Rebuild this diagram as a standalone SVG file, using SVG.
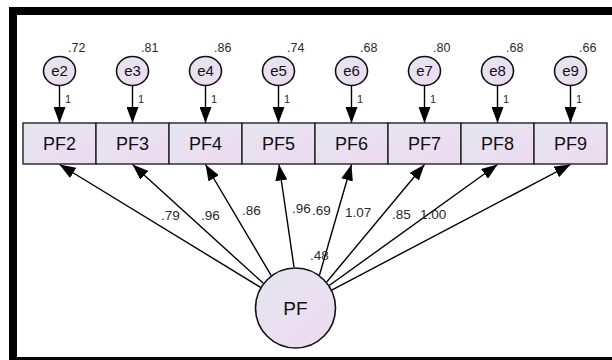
<svg xmlns="http://www.w3.org/2000/svg" width="612" height="360" viewBox="0 0 612 360">
<defs>
<linearGradient id="g" x1="0" y1="0" x2="1" y2="1">
<stop offset="0" stop-color="#e4e6ee"/>
<stop offset="1" stop-color="#eedaf2"/>
</linearGradient>
<marker id="ah" markerUnits="userSpaceOnUse" markerWidth="16" markerHeight="12" refX="16" refY="6" orient="auto">
<path d="M0,0 L16,6 L0,12 Z" fill="#000"/>
</marker>
</defs>
<style>
.box{fill:url(#g);stroke:#222;stroke-width:1.4}
.circ{fill:url(#g);stroke:#111;stroke-width:1.6}
.lbl{font-family:"Liberation Sans",Arial,sans-serif;fill:#111;text-anchor:middle}
.num{font-family:"Liberation Sans",Arial,sans-serif;fill:#2a2a2a;font-size:13.5px}
.var{font-family:"Liberation Sans",Arial,sans-serif;fill:#2a2a2a;font-size:12.5px}
.one{font-family:"Liberation Sans",Arial,sans-serif;fill:#2a2a2a;font-size:11px}
.ln{stroke:#000;stroke-width:1.4;fill:none;marker-end:url(#ah)}
</style>
<rect x="0" y="0" width="612" height="360" fill="#fff"/>
<rect x="13" y="11" width="700" height="350" fill="none" stroke="#000" stroke-width="8"/>

<g id="connectors">
<line class="ln" x1="59.5" y1="85.5" x2="59.5" y2="123"/>
<line class="ln" x1="132.5" y1="85.5" x2="132.5" y2="123"/>
<line class="ln" x1="205.5" y1="85.5" x2="205.5" y2="123"/>
<line class="ln" x1="278.5" y1="85.5" x2="278.5" y2="123"/>
<line class="ln" x1="351.5" y1="85.5" x2="351.5" y2="123"/>
<line class="ln" x1="424.5" y1="85.5" x2="424.5" y2="123"/>
<line class="ln" x1="497.5" y1="85.5" x2="497.5" y2="123"/>
<line class="ln" x1="570.5" y1="85.5" x2="570.5" y2="123"/>
<line class="ln" x1="260.6" y1="287.4" x2="59.5" y2="164.5"/>
<line class="ln" x1="263.3" y1="283.3" x2="132.5" y2="164.5"/>
<line class="ln" x1="271.1" y1="275.4" x2="205.5" y2="164.5"/>
<line class="ln" x1="294" y1="267" x2="279" y2="164.5"/>
<line class="ln" x1="319.5" y1="275" x2="351.5" y2="164.5"/>
<line class="ln" x1="326.7" y1="282" x2="424.5" y2="164.5"/>
<line class="ln" x1="329.2" y1="285.5" x2="497.5" y2="164.5"/>
<line class="ln" x1="331.7" y1="290.1" x2="570.5" y2="164.5"/>
<text class="one" x="65" y="103">1</text>
<text class="one" x="138" y="103">1</text>
<text class="one" x="211" y="103">1</text>
<text class="one" x="284" y="103">1</text>
<text class="one" x="357" y="103">1</text>
<text class="one" x="430" y="103">1</text>
<text class="one" x="503" y="103">1</text>
<text class="one" x="576" y="103">1</text>
<text class="num" x="161" y="220">.79</text>
<text class="num" x="201" y="220">.96</text>
<text class="num" x="242" y="215">.86</text>
<text class="num" x="292" y="213">.96</text>
<text class="num" x="312" y="215">.69</text>
<text class="num" x="345" y="217">1.07</text>
<text class="num" x="392" y="219">.85</text>
<text class="num" x="420" y="219">1.00</text>
</g>

<g id="PF2"><rect class="box" x="23" y="123" width="73" height="41"/><text class="lbl" x="59.5" y="150" font-size="18">PF2</text></g>
<g id="PF3"><rect class="box" x="96" y="123" width="73" height="41"/><text class="lbl" x="132.5" y="150" font-size="18">PF3</text></g>
<g id="PF4"><rect class="box" x="169" y="123" width="73" height="41"/><text class="lbl" x="205.5" y="150" font-size="18">PF4</text></g>
<g id="PF5"><rect class="box" x="242" y="123" width="73" height="41"/><text class="lbl" x="278.5" y="150" font-size="18">PF5</text></g>
<g id="PF6"><rect class="box" x="315" y="123" width="73" height="41"/><text class="lbl" x="351.5" y="150" font-size="18">PF6</text></g>
<g id="PF7"><rect class="box" x="388" y="123" width="73" height="41"/><text class="lbl" x="424.5" y="150" font-size="18">PF7</text></g>
<g id="PF8"><rect class="box" x="461" y="123" width="73" height="41"/><text class="lbl" x="497.5" y="150" font-size="18">PF8</text></g>
<g id="PF9"><rect class="box" x="534" y="123" width="73" height="41"/><text class="lbl" x="570.5" y="150" font-size="18">PF9</text></g>

<g id="e2"><ellipse class="circ" cx="59.5" cy="71" rx="16" ry="14.5"/><text class="lbl" x="59.5" y="76" font-size="15">e2</text><text class="var" x="68" y="52">.72</text></g>
<g id="e3"><ellipse class="circ" cx="132.5" cy="71" rx="16" ry="14.5"/><text class="lbl" x="132.5" y="76" font-size="15">e3</text><text class="var" x="141" y="52">.81</text></g>
<g id="e4"><ellipse class="circ" cx="205.5" cy="71" rx="16" ry="14.5"/><text class="lbl" x="205.5" y="76" font-size="15">e4</text><text class="var" x="214" y="52">.86</text></g>
<g id="e5"><ellipse class="circ" cx="278.5" cy="71" rx="16" ry="14.5"/><text class="lbl" x="278.5" y="76" font-size="15">e5</text><text class="var" x="287" y="52">.74</text></g>
<g id="e6"><ellipse class="circ" cx="351.5" cy="71" rx="16" ry="14.5"/><text class="lbl" x="351.5" y="76" font-size="15">e6</text><text class="var" x="360" y="52">.68</text></g>
<g id="e7"><ellipse class="circ" cx="424.5" cy="71" rx="16" ry="14.5"/><text class="lbl" x="424.5" y="76" font-size="15">e7</text><text class="var" x="433" y="52">.80</text></g>
<g id="e8"><ellipse class="circ" cx="497.5" cy="71" rx="16" ry="14.5"/><text class="lbl" x="497.5" y="76" font-size="15">e8</text><text class="var" x="506" y="52">.68</text></g>
<g id="e9"><ellipse class="circ" cx="570.5" cy="71" rx="16" ry="14.5"/><text class="lbl" x="570.5" y="76" font-size="15">e9</text><text class="var" x="579" y="52">.66</text></g>

<g id="PF"><circle class="circ" cx="295.5" cy="308" r="40"/><text class="lbl" x="295.5" y="315" font-size="19">PF</text><text class="num" x="310" y="260">.48</text></g>
</svg>
